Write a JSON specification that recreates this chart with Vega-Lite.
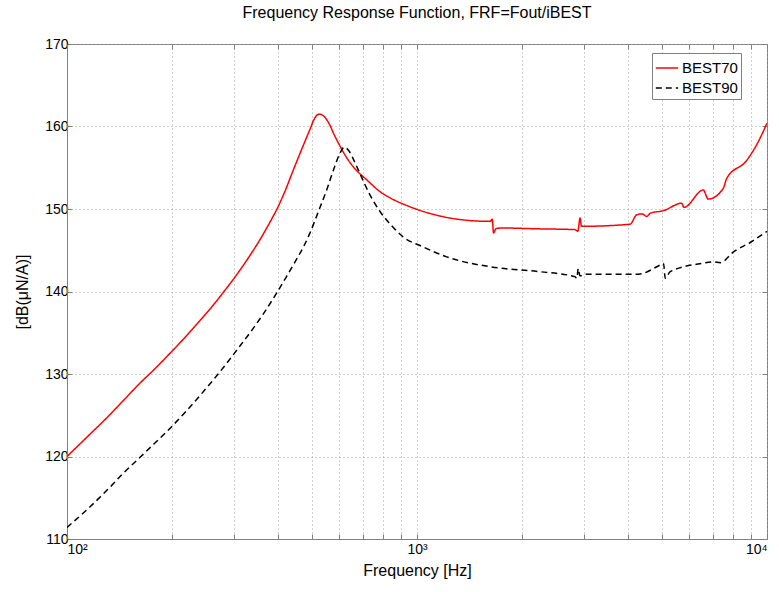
{
  "$schema": "https://vega.github.io/schema/vega-lite/v6.json",
  "width": 700,
  "height": 495,
  "autosize": {"type": "none"},
  "padding": {"left": 67, "top": 44, "right": 12, "bottom": 53},
  "background": "white",
  "title": {"text": "Frequency Response Function, FRF=Fout/iBEST", "font": "Liberation Sans", "fontSize": 16, "fontWeight": "normal", "color": "black", "offset": 16},
  "config": {
    "font": "Liberation Sans",
    "view": {"stroke": "#808080", "strokeWidth": 1},
    "axis": {
      "labelFont": "Liberation Sans", "labelFontSize": 14, "labelColor": "black",
      "titleFont": "Liberation Sans", "titleFontSize": 16, "titleFontWeight": "normal", "titleColor": "black",
      "domainColor": "#808080", "tickColor": "#808080", "tickSize": -5,
      "gridColor": "#a0a0a0", "gridDash": [1, 3], "gridOpacity": 1, "gridWidth": 1,
      "labelOverlap": false
    },
    "legend": {
      "orient": "none", "legendX": 585, "legendY": 9,
      "fillColor": "white", "strokeColor": "#808080", "padding": 3,
      "labelFont": "Liberation Sans", "labelFontSize": 15, "labelColor": "black", "labelOffset": 3,
      "symbolType": "stroke", "symbolSize": 500, "symbolStrokeWidth": 1.5, "rowPadding": 0
    }
  },
  "data": {"values": [
    {"series": "BEST70", "freq": 100, "dB": 120.0},
    {"series": "BEST70", "freq": 115, "dB": 122.5},
    {"series": "BEST70", "freq": 130, "dB": 124.7},
    {"series": "BEST70", "freq": 145, "dB": 126.8},
    {"series": "BEST70", "freq": 161.7, "dB": 128.9},
    {"series": "BEST70", "freq": 178, "dB": 130.6},
    {"series": "BEST70", "freq": 196.8, "dB": 132.5},
    {"series": "BEST70", "freq": 218, "dB": 134.5},
    {"series": "BEST70", "freq": 240, "dB": 136.5},
    {"series": "BEST70", "freq": 260, "dB": 138.2},
    {"series": "BEST70", "freq": 279.7, "dB": 139.9},
    {"series": "BEST70", "freq": 305, "dB": 142.0},
    {"series": "BEST70", "freq": 330, "dB": 144.1},
    {"series": "BEST70", "freq": 355, "dB": 146.2},
    {"series": "BEST70", "freq": 380, "dB": 148.4},
    {"series": "BEST70", "freq": 397, "dB": 149.9},
    {"series": "BEST70", "freq": 420, "dB": 152.2},
    {"series": "BEST70", "freq": 443, "dB": 154.7},
    {"series": "BEST70", "freq": 470, "dB": 157.4},
    {"series": "BEST70", "freq": 494, "dB": 159.6},
    {"series": "BEST70", "freq": 510, "dB": 161.0},
    {"series": "BEST70", "freq": 525, "dB": 161.5},
    {"series": "BEST70", "freq": 540, "dB": 161.3},
    {"series": "BEST70", "freq": 560, "dB": 160.4},
    {"series": "BEST70", "freq": 580, "dB": 159.0},
    {"series": "BEST70", "freq": 603, "dB": 157.6},
    {"series": "BEST70", "freq": 630, "dB": 156.2},
    {"series": "BEST70", "freq": 658, "dB": 155.1},
    {"series": "BEST70", "freq": 720, "dB": 153.5},
    {"series": "BEST70", "freq": 784, "dB": 152.1},
    {"series": "BEST70", "freq": 850, "dB": 151.2},
    {"series": "BEST70", "freq": 925, "dB": 150.5},
    {"series": "BEST70", "freq": 1042, "dB": 149.7},
    {"series": "BEST70", "freq": 1164, "dB": 149.15},
    {"series": "BEST70", "freq": 1243, "dB": 148.9},
    {"series": "BEST70", "freq": 1617, "dB": 148.5},
    {"series": "BEST70", "freq": 1640, "dB": 148.75},
    {"series": "BEST70", "freq": 1655, "dB": 147.1},
    {"series": "BEST70", "freq": 1680, "dB": 147.6},
    {"series": "BEST70", "freq": 1742, "dB": 147.7},
    {"series": "BEST70", "freq": 2200, "dB": 147.6},
    {"series": "BEST70", "freq": 2826, "dB": 147.5},
    {"series": "BEST70", "freq": 2880, "dB": 147.3},
    {"series": "BEST70", "freq": 2924, "dB": 148.9},
    {"series": "BEST70", "freq": 2950, "dB": 147.9},
    {"series": "BEST70", "freq": 4062, "dB": 148.15},
    {"series": "BEST70", "freq": 4245, "dB": 149.3},
    {"series": "BEST70", "freq": 4400, "dB": 149.4},
    {"series": "BEST70", "freq": 4533, "dB": 149.1},
    {"series": "BEST70", "freq": 4645, "dB": 149.5},
    {"series": "BEST70", "freq": 5063, "dB": 149.8},
    {"series": "BEST70", "freq": 5703, "dB": 150.7},
    {"series": "BEST70", "freq": 5790, "dB": 150.2},
    {"series": "BEST70", "freq": 6575, "dB": 152.3},
    {"series": "BEST70", "freq": 6794, "dB": 151.2},
    {"series": "BEST70", "freq": 7500, "dB": 152.5},
    {"series": "BEST70", "freq": 7670, "dB": 153.7},
    {"series": "BEST70", "freq": 8752, "dB": 155.9},
    {"series": "BEST70", "freq": 9400, "dB": 158.0},
    {"series": "BEST70", "freq": 10000, "dB": 160.4},
    {"series": "BEST90", "freq": 100, "dB": 111.4},
    {"series": "BEST90", "freq": 115, "dB": 113.7},
    {"series": "BEST90", "freq": 130, "dB": 115.9},
    {"series": "BEST90", "freq": 145, "dB": 118.0},
    {"series": "BEST90", "freq": 161.7, "dB": 119.9},
    {"series": "BEST90", "freq": 178, "dB": 121.6},
    {"series": "BEST90", "freq": 196.8, "dB": 123.4},
    {"series": "BEST90", "freq": 218, "dB": 125.4},
    {"series": "BEST90", "freq": 240, "dB": 127.4},
    {"series": "BEST90", "freq": 262, "dB": 129.3},
    {"series": "BEST90", "freq": 286, "dB": 131.3},
    {"series": "BEST90", "freq": 312, "dB": 133.4},
    {"series": "BEST90", "freq": 340, "dB": 135.5},
    {"series": "BEST90", "freq": 368, "dB": 137.6},
    {"series": "BEST90", "freq": 397, "dB": 139.8},
    {"series": "BEST90", "freq": 425, "dB": 141.9},
    {"series": "BEST90", "freq": 450, "dB": 143.7},
    {"series": "BEST90", "freq": 475, "dB": 145.5},
    {"series": "BEST90", "freq": 494, "dB": 147.05},
    {"series": "BEST90", "freq": 525, "dB": 149.9},
    {"series": "BEST90", "freq": 552, "dB": 152.3},
    {"series": "BEST90", "freq": 578, "dB": 154.8},
    {"series": "BEST90", "freq": 600, "dB": 156.6},
    {"series": "BEST90", "freq": 620, "dB": 157.5},
    {"series": "BEST90", "freq": 640, "dB": 157.0},
    {"series": "BEST90", "freq": 662, "dB": 155.8},
    {"series": "BEST90", "freq": 687, "dB": 154.3},
    {"series": "BEST90", "freq": 730, "dB": 151.9},
    {"series": "BEST90", "freq": 784, "dB": 149.7},
    {"series": "BEST90", "freq": 845, "dB": 148.0},
    {"series": "BEST90", "freq": 914, "dB": 146.6},
    {"series": "BEST90", "freq": 1042, "dB": 145.4},
    {"series": "BEST90", "freq": 1216, "dB": 144.2},
    {"series": "BEST90", "freq": 1617, "dB": 143.0},
    {"series": "BEST90", "freq": 2244, "dB": 142.4},
    {"series": "BEST90", "freq": 2826, "dB": 141.8},
    {"series": "BEST90", "freq": 2860, "dB": 141.6},
    {"series": "BEST90", "freq": 2890, "dB": 142.8},
    {"series": "BEST90", "freq": 2920, "dB": 141.9},
    {"series": "BEST90", "freq": 3060, "dB": 142.1},
    {"series": "BEST90", "freq": 4288, "dB": 142.1},
    {"series": "BEST90", "freq": 4945, "dB": 143.2},
    {"series": "BEST90", "freq": 5063, "dB": 143.4},
    {"series": "BEST90", "freq": 5120, "dB": 141.6},
    {"series": "BEST90", "freq": 5290, "dB": 142.4},
    {"series": "BEST90", "freq": 6500, "dB": 143.4},
    {"series": "BEST90", "freq": 7027, "dB": 143.6},
    {"series": "BEST90", "freq": 7360, "dB": 143.5},
    {"series": "BEST90", "freq": 8020, "dB": 144.8},
    {"series": "BEST90", "freq": 9000, "dB": 146.0},
    {"series": "BEST90", "freq": 10000, "dB": 147.3}
  ]},
  "layer": [
    {
      "mark": {"type": "line", "strokeWidth": 1.5, "clip": true, "interpolate": "monotone"},
      "encoding": {
        "x": {
          "field": "freq", "type": "quantitative",
          "scale": {"type": "log", "domain": [100, 10000]},
          "axis": {
            "title": "Frequency [Hz]", "titlePadding": 6, "labelPadding": 8,
            "values": [100, 200, 300, 400, 500, 600, 700, 800, 900, 1000, 2000, 3000, 4000, 5000, 6000, 7000, 8000, 9000, 10000],
            "labelExpr": "datum.value == 100 ? '10²' : datum.value == 1000 ? '10³' : datum.value == 10000 ? '10⁴' : ''"
          }
        },
        "y": {
          "field": "dB", "type": "quantitative",
          "scale": {"domain": [110, 170]},
          "axis": {"title": "[dB(μN/A)]", "values": [110, 120, 130, 140, 150, 160, 170], "labelPadding": 4, "titlePadding": 14}
        },
        "color": {
          "field": "series", "type": "nominal",
          "scale": {"domain": ["BEST70", "BEST90"], "range": ["#ff0000", "#000000"]},
          "legend": {"title": null}
        },
        "strokeDash": {
          "field": "series", "type": "nominal",
          "scale": {"domain": ["BEST70", "BEST90"], "range": [[1, 0], [6, 4]]},
          "legend": {"title": null}
        }
      }
    },
    {
      "mark": {"type": "line", "opacity": 0},
      "encoding": {
        "x": {
          "field": "freq", "type": "quantitative",
          "scale": {"type": "log", "domain": [100, 10000]},
          "axis": {"orient": "top", "title": null, "labels": false, "grid": false, "domain": false,
            "values": [100, 200, 300, 400, 500, 600, 700, 800, 900, 1000, 2000, 3000, 4000, 5000, 6000, 7000, 8000, 9000, 10000]}
        },
        "y": {
          "field": "dB", "type": "quantitative",
          "scale": {"domain": [110, 170]},
          "axis": {"orient": "right", "title": null, "labels": false, "grid": false, "domain": false,
            "values": [110, 120, 130, 140, 150, 160, 170]}
        }
      }
    }
  ],
  "resolve": {"axis": {"x": "independent", "y": "independent"}}
}
